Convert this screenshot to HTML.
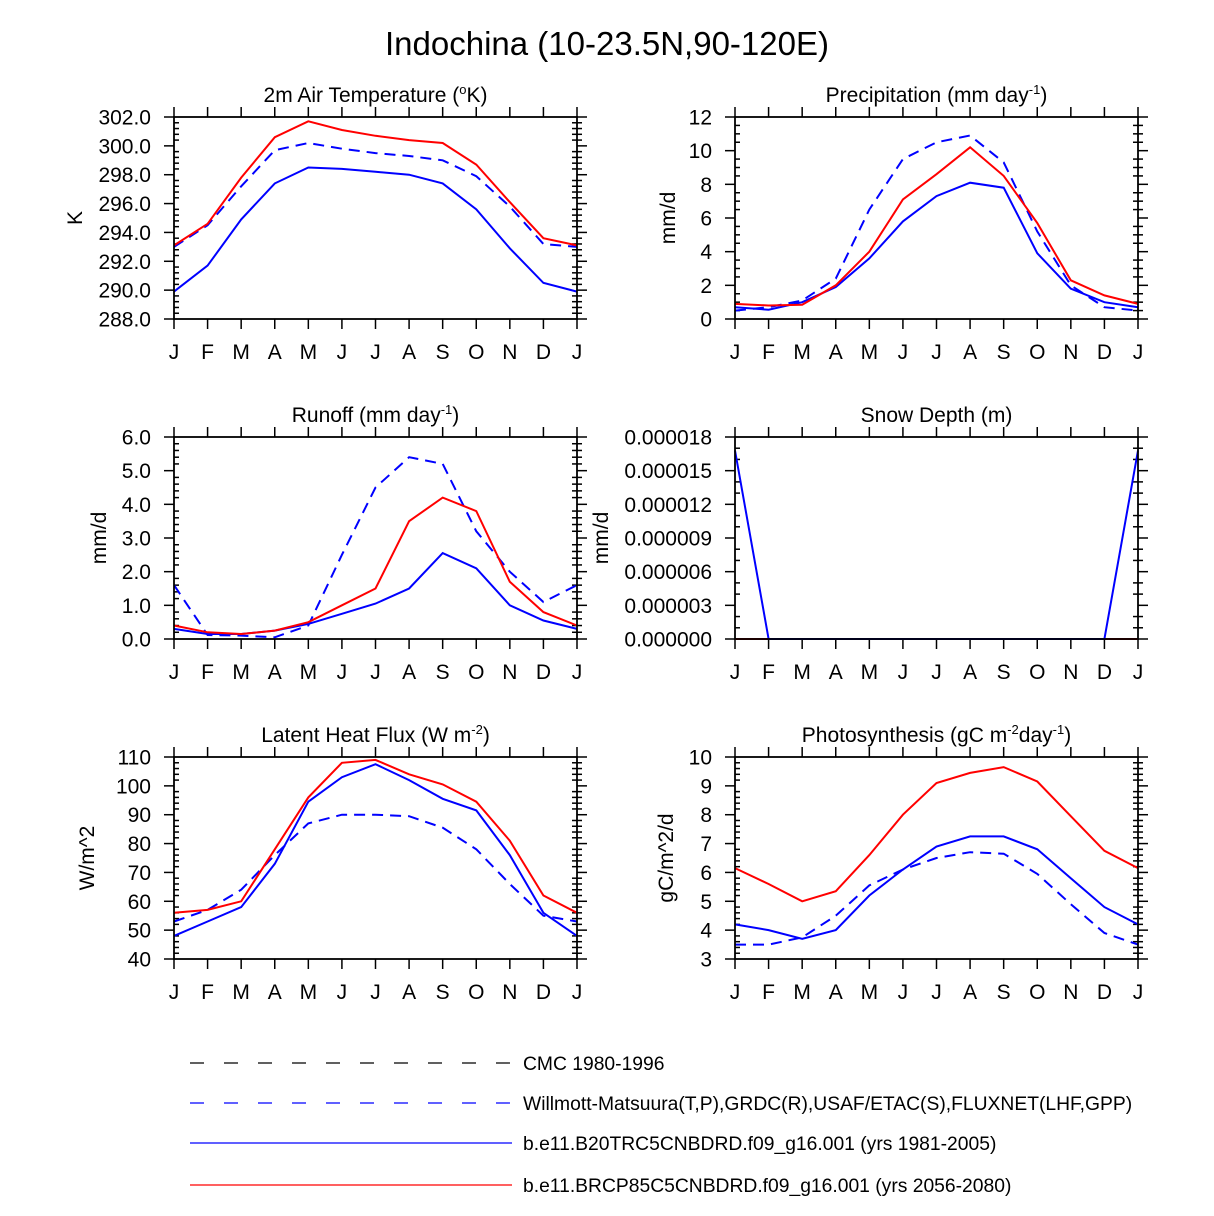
<!DOCTYPE html>
<html><head><meta charset="utf-8"><style>
body{margin:0;background:#fff;}
svg{display:block;font-family:"Liberation Sans",Arial,sans-serif;}
</style></head><body>
<svg id="fig" width="1214" height="1216" viewBox="0 0 1214 1216">
<text x="607" y="55" font-size="33" text-anchor="middle">Indochina (10-23.5N,90-120E)</text>
<g>
<line x1="190" y1="1063" x2="512" y2="1063" stroke="#000" stroke-width="1.2" stroke-dasharray="14,20"/>
<text x="523" y="1070" font-size="19.3">CMC 1980-1996</text>
<line x1="190" y1="1103" x2="512" y2="1103" stroke="#00f" stroke-width="1.2" stroke-dasharray="14,20"/>
<text x="523" y="1110" font-size="19.3">Willmott-Matsuura(T,P),GRDC(R),USAF/ETAC(S),FLUXNET(LHF,GPP)</text>
<line x1="190" y1="1143" x2="512" y2="1143" stroke="#00f" stroke-width="1.2"/>
<text x="523" y="1150" font-size="19.3">b.e11.B20TRC5CNBDRD.f09_g16.001 (yrs 1981-2005)</text>
<line x1="190" y1="1185" x2="512" y2="1185" stroke="#f00" stroke-width="1.2"/>
<text x="523" y="1192" font-size="19.3">b.e11.BRCP85C5CNBDRD.f09_g16.001 (yrs 2056-2080)</text>
</g>
</svg>
<script>
const months = ["J","F","M","A","M","J","J","A","S","O","N","D","J"];
const tempRed = [293.1,294.6,297.8,300.6,301.7,301.1,300.7,300.4,300.2,298.7,296.1,293.6,293.1];
const tempObs = [293.0,294.5,297.2,299.7,300.2,299.8,299.5,299.3,299.0,297.9,295.8,293.2,293.0];
const tempBlue = [289.9,291.7,294.9,297.4,298.5,298.4,298.2,298.0,297.4,295.6,292.9,290.5,289.9];
const precRed = [0.9,0.8,0.85,2.0,4.0,7.1,8.6,10.2,8.5,5.7,2.3,1.4,0.9];
const precObs = [0.5,0.7,1.1,2.4,6.5,9.5,10.5,10.9,9.3,5.2,2.0,0.7,0.5];
const precBlue = [0.7,0.55,1.0,1.9,3.6,5.8,7.3,8.1,7.8,3.9,1.8,1.0,0.7];
const runRed = [0.4,0.2,0.15,0.25,0.5,1.0,1.5,3.5,4.2,3.8,1.7,0.8,0.4];
const runObs = [1.6,0.12,0.1,0.05,0.4,2.5,4.5,5.4,5.2,3.2,2.0,1.1,1.6];
const runBlue = [0.3,0.15,0.15,0.25,0.45,0.75,1.05,1.5,2.55,2.1,1.0,0.55,0.3];
const snowRed = [0,0,0,0,0,0,0,0,0,0,0,0,0];
const snowBlue = [0.0000168,0,0,0,0,0,0,0,0,0,0,0,0.0000168];
const lhfRed = [56,57,60,78,96,108,109,104,100.5,94.5,81,62,56];
const lhfObs = [53,57,64,76,87,90,90,89.5,85.5,78,66,55,53];
const lhfBlue = [48,53,58,73,94.5,103,107.5,102,95.5,91.5,76,56,48];
const gppRed = [6.15,5.6,5.0,5.35,6.6,8.0,9.1,9.45,9.65,9.15,7.95,6.75,6.15];
const gppObs = [3.5,3.5,3.75,4.5,5.55,6.1,6.5,6.7,6.65,5.95,4.9,3.9,3.5];
const gppBlue = [4.2,4.0,3.7,4.0,5.2,6.1,6.9,7.25,7.25,6.8,5.8,4.8,4.2];
const tempTicks = [288,290,292,294,296,298,300,302];
const precTicks = [0,2,4,6,8,10,12];
const runTicks = [0,1,2,3,4,5,6];
const snowTicks = [0,0.000003,0.000006,0.000009,0.000012,0.000015,0.000018];
const lhfTicks = [40,50,60,70,80,90,100,110];
const gppTicks = [3,4,5,6,7,8,9,10];

const NS="http://www.w3.org/2000/svg";
const svg=document.getElementById('fig');
function mk(tag,attrs,parent){const e=document.createElementNS(NS,tag);for(const k in attrs)e.setAttribute(k,attrs[k]);(parent||svg).appendChild(e);return e;}

function panel(name,x0,y0,titleHTML,ylab,ylabOff,ticks,fmt,minors,series){
  const w=403,h=202;
  const g=mk('g',{});
  
  
  const lo=ticks[0],hi=ticks[ticks.length-1];
  const X=i=>x0+i*w/12;
  const Y=v=>y0+h-(v-lo)/(hi-lo)*h;
  const t=mk('text',{x:x0+w/2,y:y0-15,'font-size':21,'text-anchor':'middle'},g);
  t.innerHTML=titleHTML;
  
  
  const yl=mk('text',{x:0,y:0,'font-size':21,'text-anchor':'middle',transform:`translate(${x0-ylabOff},${y0+h/2}) rotate(-90)`},g);
  yl.textContent=ylab;
  
  
  const tk=mk('g',{stroke:'#000','stroke-width':1.5},g);
  
  
  for(let k=0;k<ticks.length;k++){
    const y=Y(ticks[k]);
    mk('line',{x1:x0-10,y1:y,x2:x0,y2:y},tk);
    mk('line',{x1:x0+w,y1:y,x2:x0+w+10,y2:y},tk);
    const lb=mk('text',{x:x0-23,y:y+7.5,'font-size':21,'text-anchor':'end',stroke:'none',fill:'#000'},g);
    lb.textContent=fmt(ticks[k]);
    
    
    if(k<ticks.length-1){
      const step=(ticks[k+1]-ticks[k])/(minors+1);
      for(let m=1;m<=minors;m++){const yy=Y(ticks[k]+m*step);
        mk('line',{x1:x0,y1:yy,x2:x0+5,y2:yy},tk);
        mk('line',{x1:x0+w-5,y1:yy,x2:x0+w+5,y2:yy},tk);}
    }
  }
  for(let i=0;i<13;i++){
    const x=X(i);
    mk('line',{x1:x,y1:y0+h,x2:x,y2:y0+h+10},tk);
    mk('line',{x1:x,y1:y0-10,x2:x,y2:y0},tk);
    const lb=mk('text',{x:x,y:y0+h+40,'font-size':21,'text-anchor':'middle',stroke:'none',fill:'#000'},g);
    lb.textContent=months[i];
    
    
  }
  for(const s of series){
    const p=mk('polyline',{points:s.d.map((v,i)=>X(i).toFixed(1)+','+Y(v).toFixed(1)).join(' '),fill:'none',stroke:s.c,'stroke-width':2},g);
    if(s.dash)p.setAttribute('stroke-dasharray','11,7');
    
    
  }
  const fr=mk('rect',{x:x0,y:y0,width:w,height:h,fill:'none',stroke:'#000','stroke-width':1.8},g);
  
  
}
const f1=v=>v.toFixed(1), f0=v=>v.toFixed(0), f6=v=>v.toFixed(6);
panel('temperature',174,117,'2m Air Temperature (<tspan dy="-8" font-size="13">o</tspan><tspan dy="8">K)</tspan>','K',92,tempTicks,f1,4,
 [{n:'obs',d:tempObs,c:'#00f',dash:1},{n:'b20',d:tempBlue,c:'#00f'},{n:'rcp85',d:tempRed,c:'#f00'}]);
panel('precipitation',735,117,'Precipitation (mm day<tspan dy="-8" font-size="13">-1</tspan><tspan dy="8">)</tspan>','mm/d',60,precTicks,f0,3,
 [{n:'obs',d:precObs,c:'#00f',dash:1},{n:'b20',d:precBlue,c:'#00f'},{n:'rcp85',d:precRed,c:'#f00'}]);
panel('runoff',174,437,'Runoff (mm day<tspan dy="-8" font-size="13">-1</tspan><tspan dy="8">)</tspan>','mm/d',68,runTicks,f1,4,
 [{n:'obs',d:runObs,c:'#00f',dash:1},{n:'b20',d:runBlue,c:'#00f'},{n:'rcp85',d:runRed,c:'#f00'}]);
panel('snow-depth',735,437,'Snow Depth (m)','mm/d',127,snowTicks,f6,2,
 [{n:'rcp85',d:snowRed,c:'#f00'},{n:'b20',d:snowBlue,c:'#00f'}]);
panel('latent-heat',174,757,'Latent Heat Flux (W m<tspan dy="-8" font-size="13">-2</tspan><tspan dy="8">)</tspan>','W/m^2',80,lhfTicks,f0,4,
 [{n:'obs',d:lhfObs,c:'#00f',dash:1},{n:'b20',d:lhfBlue,c:'#00f'},{n:'rcp85',d:lhfRed,c:'#f00'}]);
panel('photosynthesis',735,757,'Photosynthesis (gC m<tspan dy="-8" font-size="13">-2</tspan><tspan dy="8">day</tspan><tspan dy="-8" font-size="13">-1</tspan><tspan dy="8">)</tspan>','gC/m^2/d',62,gppTicks,f0,4,
 [{n:'obs',d:gppObs,c:'#00f',dash:1},{n:'b20',d:gppBlue,c:'#00f'},{n:'rcp85',d:gppRed,c:'#f00'}]);
</script>
</body></html>
